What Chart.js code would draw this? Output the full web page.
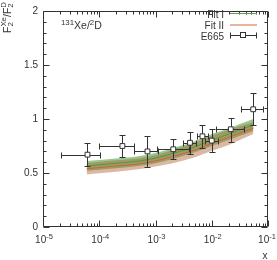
<!DOCTYPE html>
<html>
<head>
<meta charset="utf-8">
<script src="https://cdn.jsdelivr.net/npm/chart.js@4/dist/chart.umd.min.js"></script>
<style>
html, body { margin: 0; padding: 0; background: #fff; }
#wrap { width: 277px; height: 260px; }
</style>
</head>
<body>
<div id="wrap"><canvas id="chart"></canvas></div>
<script>
// fit curves (x grid, central value, half width of band)
var fitX    = [6e-5, 1e-4, 2e-4, 5e-4, 1e-3, 2e-3, 5e-3, 1e-2, 2e-2, 3e-2, 5.5e-2];
var fit1    = [0.565, 0.575, 0.59, 0.61, 0.638, 0.68, 0.743, 0.805, 0.86, 0.895, 0.945];
var fit1Err = [0.045, 0.045, 0.045, 0.045, 0.047, 0.05, 0.052, 0.055, 0.055, 0.055, 0.055];
var fit2    = [0.54, 0.55, 0.565, 0.585, 0.612, 0.652, 0.713, 0.775, 0.83, 0.865, 0.915];
var fit2Err = [0.053, 0.053, 0.053, 0.05, 0.052, 0.062, 0.068, 0.07, 0.07, 0.065, 0.055];

// E665 data
var e665X   = [6.18e-5, 2.58e-4, 7.2e-4, 2.07e-3, 4.1e-3, 6.83e-3, 1.0e-2, 2.18e-2, 5.46e-2];
var e665Y   = [0.67, 0.75, 0.70, 0.72, 0.78, 0.84, 0.80, 0.905, 1.09];
var e665XLo = [2.07e-5, 1.01e-4, 4.07e-4, 1.07e-3, 3.07e-3, 5.4e-3, 7.66e-3, 1.18e-2, 3.3e-2];
var e665XHi = [1.04e-4, 4.1e-4, 1.09e-3, 4.0e-3, 5.24e-3, 8.59e-3, 1.31e-2, 3.72e-2, 8.05e-2];
var e665YLo = [0.565, 0.645, 0.556, 0.63, 0.675, 0.735, 0.69, 0.79, 0.944];
var e665YHi = [0.78, 0.855, 0.84, 0.816, 0.88, 0.944, 0.906, 1.01, 1.24];

var xTicks = [1e-5, 1e-4, 1e-3, 1e-2, 1e-1];
var xTickExp = ['-5', '-4', '-3', '-2', '-1'];
var yTicks = [0, 0.5, 1, 1.5, 2];
var yTickLabels = ['0', '0.5', '1', '1.5', '2'];

var FONT = '"Liberation Sans", Arial, sans-serif';
var INK = '#333';

function curve(vals) {
	return fitX.map(function (x, i) { return { x: x, y: vals[i] }; });
}
function band(vals, err, sign) {
	return fitX.map(function (x, i) { return { x: x, y: vals[i] + sign * err[i] }; });
}

// text with sub/superscripts; stack:true puts this part and the next one on top of each other
function drawRich(ctx, parts, x, y, align, size) {
	var small = size * 0.75;
	function font(p) { return (p.k === 'n' ? size : small) + 'px ' + FONT; }
	function dy(p) { return p.k === 'sup' ? -size * 0.4 : (p.k === 'sub' ? size * 0.28 : 0); }
	var items = [], w = 0;
	for (var i = 0; i < parts.length; i++) {
		var p = parts[i];
		ctx.font = font(p);
		var pw = ctx.measureText(p.t).width;
		items.push({ p: p, x: w });
		if (p.stack && parts[i + 1]) {
			var q = parts[i + 1];
			ctx.font = font(q);
			pw = Math.max(pw, ctx.measureText(q.t).width);
			items.push({ p: q, x: w });
			i++;
		}
		w += pw;
	}
	var x0 = align === 'right' ? x - w : (align === 'center' ? x - w / 2 : x);
	ctx.textAlign = 'left';
	ctx.textBaseline = 'alphabetic';
	items.forEach(function (it) {
		ctx.font = font(it.p);
		ctx.fillText(it.p.t, x0 + it.x, y + dy(it.p));
	});
}

var errorBars = {
	id: 'errorBars',
	beforeDatasetDraw: function (chart, args) {
		if (args.index !== 2) return;
		var ctx = chart.ctx, xs = chart.scales.x, ys = chart.scales.y;
		ctx.save();
		ctx.strokeStyle = INK;
		ctx.lineWidth = 1;
		ctx.beginPath();
		for (var i = 0; i < e665X.length; i++) {
			var px = Math.round(xs.getPixelForValue(e665X[i])) + 0.5;
			var py = Math.round(ys.getPixelForValue(e665Y[i])) + 0.5;
			var x1 = Math.round(xs.getPixelForValue(e665XLo[i])) + 0.5;
			var x2 = Math.round(xs.getPixelForValue(e665XHi[i])) + 0.5;
			var y1 = Math.round(ys.getPixelForValue(e665YLo[i])) + 0.5;
			var y2 = Math.round(ys.getPixelForValue(e665YHi[i])) + 0.5;
			ctx.moveTo(x1, py); ctx.lineTo(x2, py);
			ctx.moveTo(x1, py - 3); ctx.lineTo(x1, py + 3);
			ctx.moveTo(x2, py - 3); ctx.lineTo(x2, py + 3);
			ctx.moveTo(px, y1); ctx.lineTo(px, y2);
			ctx.moveTo(px - 3, y1); ctx.lineTo(px + 3, y1);
			ctx.moveTo(px - 3, y2); ctx.lineTo(px + 3, y2);
		}
		ctx.stroke();
		ctx.restore();
	}
};

var frame = {
	id: 'frame',
	afterDraw: function (chart) {
		var ctx = chart.ctx, a = chart.chartArea, xs = chart.scales.x, ys = chart.scales.y;
		var L = a.left + 0.5, R = a.right - 0.5, T = a.top + 0.5, B = a.bottom - 0.5;
		ctx.save();
		ctx.strokeStyle = INK;
		ctx.lineWidth = 1;
		ctx.beginPath();
		ctx.rect(L, T, R - L, B - T);
		// y ticks every 0.1
		for (var k = 0; k <= 20; k++) {
			var py = Math.round(ys.getPixelForValue(k / 10)) + 0.5;
			var len = (k % 5 === 0) ? 6 : 3;
			ctx.moveTo(L, py); ctx.lineTo(L + len, py);
			ctx.moveTo(R, py); ctx.lineTo(R - len, py);
		}
		// log x ticks
		for (var d = -5; d <= -1; d++) {
			for (var m = 1; m <= 9; m++) {
				var v = m * Math.pow(10, d);
				if (v > 0.1 * 1.0001) break;
				var px = Math.round(xs.getPixelForValue(v)) + 0.5;
				var l = m === 1 ? 6 : 3;
				ctx.moveTo(px, B); ctx.lineTo(px, B - l);
				ctx.moveTo(px, T); ctx.lineTo(px, T + l);
			}
		}
		ctx.stroke();

		ctx.fillStyle = INK;
		// x tick labels
		xTicks.forEach(function (v, i) {
			var off = i === xTicks.length - 1 ? -1 : 1;
			drawRich(ctx, [{ t: '10', k: 'n' }, { t: xTickExp[i], k: 'sup' }],
				xs.getPixelForValue(v) + off, a.bottom + 16, 'center', 10);
		});
		// axis titles
		ctx.font = '10px ' + FONT;
		ctx.textAlign = 'center';
		ctx.textBaseline = 'alphabetic';
		ctx.fillText('x', 265, 259);

		ctx.save();
		ctx.translate(10.5, 2);
		ctx.rotate(-Math.PI / 2);
		drawRich(ctx, [
			{ t: 'F', k: 'n' }, { t: '2', k: 'sub', stack: true }, { t: 'Xe', k: 'sup' },
			{ t: '/F', k: 'n' }, { t: '2', k: 'sub', stack: true }, { t: 'D', k: 'sup' }
		], 0, 0, 'right', 10.5);
		ctx.restore();

		// annotation
		drawRich(ctx, [{ t: '131', k: 'sup' }, { t: 'Xe/', k: 'n' }, { t: '2', k: 'sup' }, { t: 'D', k: 'n' }],
			61, 29, 'left', 10.5);

		// legend
		ctx.font = '10px ' + FONT;
		ctx.textAlign = 'right';
		ctx.textBaseline = 'alphabetic';
		ctx.fillText('Fit I', 224, 17.5);
		ctx.fillText('Fit II', 224, 28.5);
		ctx.fillText('E665', 224, 39.5);

		ctx.beginPath();
		ctx.strokeStyle = '#5aa54e';
		ctx.lineWidth = 1;
		ctx.moveTo(230, 13.5); ctx.lineTo(257, 13.5);
		ctx.stroke();
		ctx.beginPath();
		ctx.strokeStyle = '#e8b49e';
		ctx.lineWidth = 2;
		ctx.moveTo(230, 25); ctx.lineTo(257, 25);
		ctx.stroke();
		ctx.beginPath();
		ctx.strokeStyle = INK;
		ctx.lineWidth = 1;
		ctx.moveTo(230.5, 35.5); ctx.lineTo(256.5, 35.5);
		ctx.moveTo(230.5, 32.5); ctx.lineTo(230.5, 38.5);
		ctx.moveTo(256.5, 32.5); ctx.lineTo(256.5, 38.5);
		ctx.stroke();
		ctx.fillStyle = '#fff';
		ctx.fillRect(241, 33, 5, 5);
		ctx.strokeRect(240.5, 32.5, 5, 5);
		ctx.restore();
	}
};

var e665Data = e665X.map(function (x, i) { return { x: x, y: e665Y[i] }; });

new Chart(document.getElementById('chart'), {
	type: 'line',
	data: {
		datasets: [
			{ label: 'Fit I', data: curve(fit1), borderColor: '#4a9a40', borderWidth: 1, pointRadius: 0, fill: false, order: 1, cubicInterpolationMode: 'monotone' },
			{ label: 'Fit II', data: curve(fit2), borderColor: '#c8643c', borderWidth: 1, pointRadius: 0, fill: false, order: 1, cubicInterpolationMode: 'monotone' },
			{ label: 'E665', data: e665Data, showLine: false, pointStyle: 'rect', pointRadius: 3.4,
				pointBackgroundColor: '#fff', pointBorderColor: INK, pointBorderWidth: 1, order: 0 },
			{ label: 'Fit I up', data: band(fit1, fit1Err, 1), borderColor: 'rgba(0,0,0,0)', pointRadius: 0,
				fill: '+1', backgroundColor: 'rgba(70,150,50,0.55)', order: 3, cubicInterpolationMode: 'monotone' },
			{ label: 'Fit I down', data: band(fit1, fit1Err, -1), borderColor: 'rgba(0,0,0,0)', pointRadius: 0,
				fill: false, order: 3, cubicInterpolationMode: 'monotone' },
			{ label: 'Fit II up', data: band(fit2, fit2Err, 1), borderColor: 'rgba(0,0,0,0)', pointRadius: 0,
				fill: '+1', backgroundColor: 'rgba(170,100,50,0.45)', order: 2, cubicInterpolationMode: 'monotone' },
			{ label: 'Fit II down', data: band(fit2, fit2Err, -1), borderColor: 'rgba(0,0,0,0)', pointRadius: 0,
				fill: false, order: 2, cubicInterpolationMode: 'monotone' }
		]
	},
	options: {
		responsive: true,
		maintainAspectRatio: false,
		animation: false,
		devicePixelRatio: 1,
		events: [],
		layout: { padding: { top: 4, right: 9, left: 0, bottom: 0 } },
		plugins: { legend: { display: false }, tooltip: { enabled: false } },
		scales: {
			x: {
				type: 'logarithmic', min: 1e-5, max: 1e-1,
				grid: { display: false, drawTicks: false },
				border: { display: false },
				ticks: { display: false },
				afterFit: function (s) { s.height = 33; }
			},
			y: {
				type: 'linear', min: 0, max: 2,
				grid: { display: false, drawTicks: false },
				border: { display: false },
				afterBuildTicks: function (s) { s.ticks = yTicks.map(function (v) { return { value: v }; }); },
				ticks: {
					padding: 5, color: INK, font: { family: FONT, size: 10 },
					callback: function (v) { var i = yTicks.indexOf(v); return i >= 0 ? yTickLabels[i] : ''; }
				},
				afterFit: function (s) { s.width = 43; }
			}
		}
	},
	plugins: [errorBars, frame]
});
</script>
</body>
</html>
